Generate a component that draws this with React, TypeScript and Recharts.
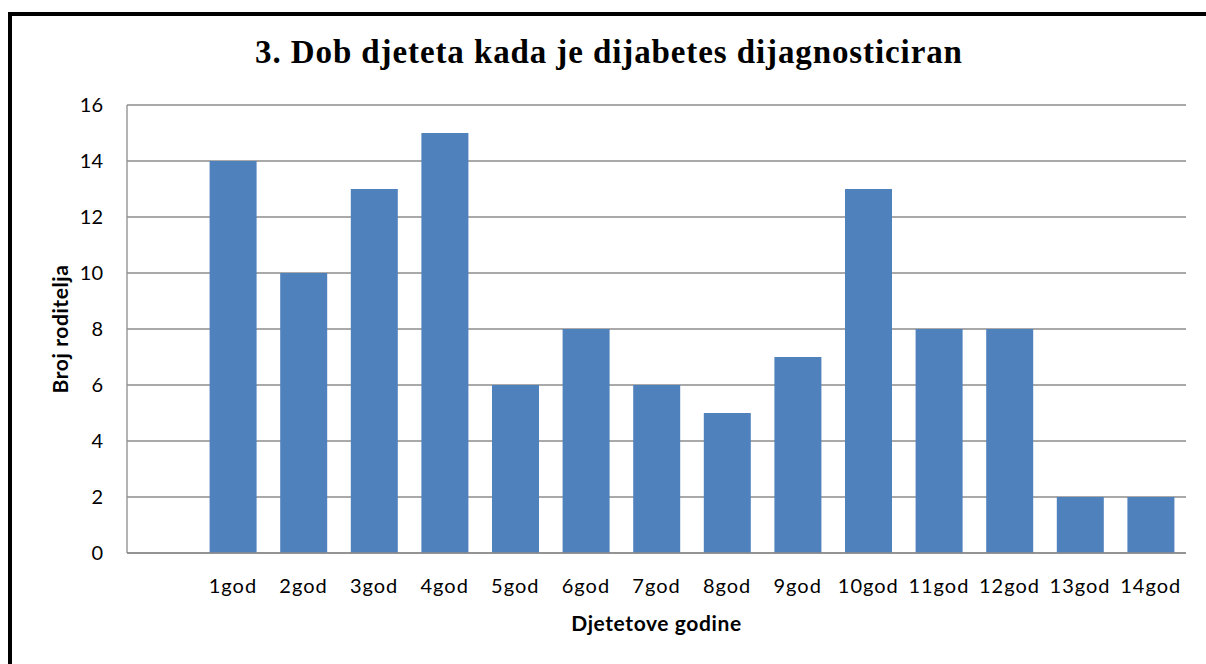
import { BarChart, Bar, XAxis, YAxis, CartesianGrid } from 'recharts';

const categories = ['', '1god', '2god', '3god', '4god', '5god', '6god', '7god', '8god', '9god', '10god', '11god', '12god', '13god', '14god'];
const parents = [null, 14, 10, 13, 15, 6, 8, 6, 5, 7, 13, 8, 8, 2, 2];
const yTicks = [0, 2, 4, 6, 8, 10, 12, 14, 16];

const data = categories.map((name, i) => ({ name, value: parents[i] }));

const tickFont = { fontFamily: 'Lato, "Open Sans", sans-serif', fontSize: 20, fill: '#000' };
const titleFont = { fontFamily: 'Lato, sans-serif', fontSize: 21, fontWeight: 700, fill: '#000', letterSpacing: '0.6px' };

const YTitle = ({ viewBox }: any) => {
  const cy = viewBox.y + viewBox.height / 2;
  return (
    <text
      x={47}
      y={cy}
      transform={`rotate(-90, 47, ${cy})`}
      textAnchor="middle"
      dominantBaseline="central"
      style={titleFont}
    >
      Broj roditelja
    </text>
  );
};

const XTitle = ({ viewBox }: any) => {
  const cx = viewBox.x + viewBox.width / 2;
  return (
    <text x={cx} y={606} textAnchor="middle" dominantBaseline="central" style={titleFont}>
      Djetetove godine
    </text>
  );
};

export default function App() {
  return (
    <div style={{ position: 'absolute', left: 0, top: 0, width: 1206, height: 664, overflow: 'hidden', background: '#fff' }}>
      <div
        style={{
          position: 'absolute',
          left: 8,
          top: 12,
          width: 1198,
          height: 652,
          borderTop: '4px solid #000',
          borderLeft: '4px solid #000',
          boxSizing: 'border-box',
        }}
      />
      <div
        style={{
          position: 'absolute',
          left: 12,
          top: 36,
          width: 1194,
          textAlign: 'center',
          fontFamily: '"Liberation Serif", "Times New Roman", serif',
          fontWeight: 700,
          fontSize: 33,
          letterSpacing: '0.9px',
          lineHeight: '33px',
          color: '#000',
        }}
      >
        3. Dob djeteta kada je dijabetes dijagnosticiran
      </div>
      <div style={{ position: 'absolute', left: 12, top: 16 }}>
        <BarChart
          width={1194}
          height={648}
          data={data}
          margin={{ top: 89, right: 20, left: 55, bottom: 51 }}
          barCategoryGap="17%"
        >
          <CartesianGrid vertical={false} stroke="#8c8c8c" strokeWidth={1.3} />
          <XAxis
            dataKey="name"
            height={60}
            tickLine={false}
            tickSize={0}
            tickMargin={26}
            axisLine={{ stroke: '#8c8c8c', strokeWidth: 1.3 }}
            tick={{ ...tickFont, letterSpacing: '1px' }}
            interval={0}
            label={<XTitle />}
          />
          <YAxis
            width={60}
            domain={[0, 16]}
            ticks={yTicks}
            tickLine={false}
            tickSize={0}
            tickMargin={24}
            axisLine={{ stroke: '#8c8c8c', strokeWidth: 1.3 }}
            tick={tickFont}
            label={<YTitle />}
          />
          <Bar dataKey="value" fill="#4f81bd" isAnimationActive={false} />
        </BarChart>
      </div>
    </div>
  );
}
